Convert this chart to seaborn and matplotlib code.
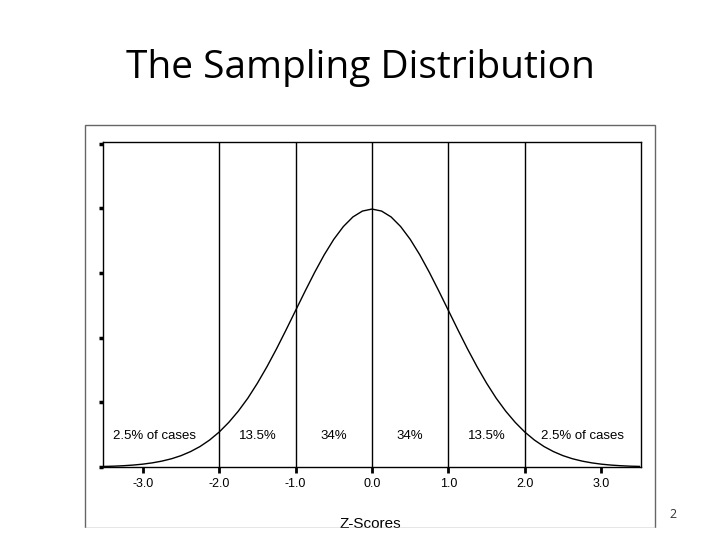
import matplotlib
matplotlib.use("Agg")
import matplotlib.pyplot as plt
import seaborn as sns
import pandas as pd
from matplotlib.patches import Rectangle

z = [-3.5,-3.375,-3.25,-3.125,-3.0,-2.875,-2.75,-2.625,-2.5,-2.375,-2.25,-2.125,-2.0,-1.875,
     -1.75,-1.625,-1.5,-1.375,-1.25,-1.125,-1.0,-0.875,-0.75,-0.625,-0.5,-0.375,-0.25,-0.125,0.0,
     0.125,0.25,0.375,0.5,0.625,0.75,0.875,1.0,1.125,1.25,1.375,1.5,1.625,1.75,1.875,
     2.0,2.125,2.25,2.375,2.5,2.625,2.75,2.875,3.0,3.125,3.25,3.375,3.5]
half = [0.0009,0.0013,0.0020,0.0030,0.0044,0.0064,0.0091,0.0127,0.0175,0.0238,0.0317,0.0417,
        0.0540,0.0689,0.0863,0.1064,0.1295,0.1550,0.1826,0.2119,0.2420,0.2720,0.3011,0.3282,
        0.3521,0.3718,0.3867,0.3958,0.3989]
density = half + half[-2::-1]
xticks = [-3.0,-2.0,-1.0,0.0,1.0,2.0,3.0]
xticklabels = ["-3.0","-2.0","-1.0","0.0","1.0","2.0","3.0"]
vlines = [-2,-1,0,1,2]
region_x = [-2.85,-1.5,-0.5,0.5,1.5,2.75]
region_labels = ["2.5% of cases","13.5%","34%","34%","13.5%","2.5% of cases"]

df = pd.DataFrame({"z": z, "d": density})
fig = plt.figure(figsize=(7.2,5.4), dpi=100)
fig.patches.append(Rectangle((85/720, 12/540), 570/720, 403/540, transform=fig.transFigure,
                             fill=False, edgecolor="#666666", lw=1))
ax = fig.add_axes([103/720, 73/540, 538/720, 325/540])
sns.lineplot(data=df, x="z", y="d", ax=ax, color="black", lw=1)
for v in vlines:
    ax.axvline(v, color="black", lw=1)
ax.set_xlim(-3.52, 3.52)
ax.set_ylim(0, 0.5026)
ax.set_xticks(xticks)
ax.set_xticklabels(xticklabels, fontfamily="Liberation Sans", fontsize=9)
ax.set_yticks([0,0.1,0.2,0.3,0.4,0.5])
ax.set_yticklabels([])
ax.tick_params(axis="y", length=3, width=2.5, direction="out")
ax.tick_params(axis="x", length=4, width=2, direction="out", pad=4)
ax.set_xlabel("")
ax.set_ylabel("")
for s in ax.spines.values():
    s.set_linewidth(1)
for x, t in zip(region_x, region_labels):
    ax.text(x, 0.0485, t, ha="center", va="center", fontsize=9.5, family="Liberation Sans")
fig.text(370/720, 1-524/540, "Z-Scores", ha="center", va="center", fontsize=11, family="Liberation Sans")
fig.patches.append(Rectangle((0, 0), 1, 12/540, transform=fig.transFigure, color="white", zorder=5))
fig.text(360/720, 1-68/540, "The Sampling Distribution", ha="center", va="center", fontsize=28, family="Open Sans")
fig.text(673/720, 1-514/540, "2", ha="center", va="center", fontsize=9, family="Open Sans", color="#333333")
fig.savefig("out.png", dpi=100)
